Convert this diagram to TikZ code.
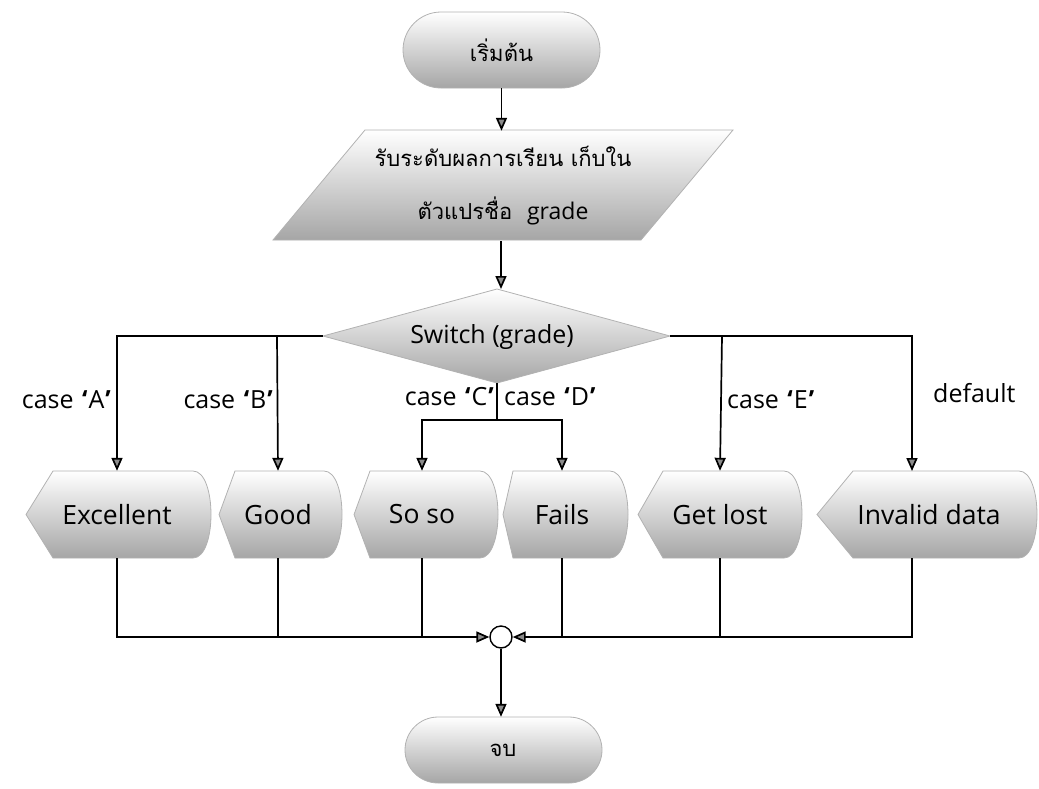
\documentclass[tikz,border=0pt]{standalone}
\usepackage{fontspec}
\setmainfont{Open Sans}
\newfontfamily\thaifont[Script=Thai]{Loma}
\usetikzlibrary{arrows.meta,calc}
\newcommand\dispshape[3]{%
  \path[shp] (#1,514.5) -- (#2,471) -- ({#3-18},471)
    .. controls ({#3+6},471) and ({#3+6},558) .. ({#3-18},558)
    -- (#2,558) -- cycle;}
\newcommand\qq[1]{\kern2pt{\bfseries ‘}\kern1pt #1\kern1pt{\bfseries ’}}
\begin{document}
\begin{tikzpicture}[x=1pt,y=-1pt,
  shp/.style={draw=black!30, line width=0.8pt, top color=white, bottom color=black!35},
  conn/.style={line width=1.7pt, draw=black},
  arr/.style={conn, -{Triangle[length=13pt,width=11pt,fill=black!45]}},
  lbl/.style={font=\fontsize{25}{30}\selectfont, inner sep=0pt},
  txt/.style={font=\fontsize{26.5}{30}\selectfont, inner sep=0pt, minimum height=87pt},
  term/.style={font=\thaifont\fontsize{22}{26}\selectfont, inner sep=0pt},
]
\useasboundingbox (0,0) rectangle (1039,788);

% start
\path[shp, rounded corners=38pt] (403,12) rectangle (600,88);
\node[term, minimum height=76pt] (start) at (501.5,50) {เริ่มต้น};

% input
\path[shp] (273,240) -- (365,130) -- (733,130) -- (641,240) -- cycle;
\node[inner sep=0pt, minimum height=110pt, align=center,
      font=\thaifont\fontsize{22}{53}\selectfont] (inp) at (503,186)
  {รับระดับผลการเรียน เก็บใน\\ตัวแปรชื่อ\ \ {\fontspec{Open Sans}\fontsize{23}{53}\selectfont grade}};

% switch
\path[shp] (323,336) -- (497,289) -- (670,336) -- (497,383) -- cycle;
\node[lbl] (sw) at (492,337) {Switch (grade)};
\coordinate (swL) at (323,336);
\coordinate (swR) at (670,336);
\coordinate (swB) at (497,383);
\coordinate (swD) at (497,420);
\coordinate (bB) at (277,336);
\coordinate (bE) at (722,336);

% display shapes
\dispshape{26}{53}{211}
\dispshape{219}{235}{342}
\dispshape{354}{370}{498}
\dispshape{503}{513}{628}
\dispshape{638}{663}{802}
\dispshape{817}{853}{1037}
\node[txt] (ex) at (117,514.5) {Excellent};
\node[txt] (gd) at (278,514.5) {Good};
\node[txt] (ss) at (422,514.5) {So so};
\node[txt] (fl) at (562,514.5) {Fails};
\node[txt] (gl) at (720,514.5) {Get lost};
\node[txt] (inv) at (929,514.5) {Invalid data};
\coordinate (invin) at (912,471);
\coordinate (invout) at (912,558);

% junction and end
\node[circle, draw, line width=1.4pt, fill=white, minimum size=22pt, inner sep=0pt] (jn) at (501,637) {};
\path[shp, rounded corners=33pt] (405,717) rectangle (602,783);
\node[term, minimum height=66pt] (stop) at (503,750) {จบ};

% connectors
\draw[arr] (start.south) -- (start.south |- inp.north);
\draw[arr] (inp.south -| 501,0) -- (501,289);
\draw[arr] (swL) -| (ex.north);
\draw[arr] (bB) -- (gd.north);
\draw[arr] (swR) -| (invin);
\draw[arr] (bE) -- (gl.north);
\draw[conn] (swB) -- (swD);
\draw[arr] (swD) -| (ss.north);
\draw[arr] (swD) -| (fl.north);

\draw[arr] (ex.south) |- (jn.west);
\draw[conn] (gd.south) -- (gd.south |- jn);
\draw[conn] (ss.south) -- (ss.south |- jn);
\draw[arr] (invout) |- (jn.east);
\draw[conn] (gl.south) -- (gl.south |- jn);
\draw[conn] (fl.south) -- (fl.south |- jn);
\draw[arr] (jn.south) -- (jn.south |- stop.north);

% labels
\node[lbl, anchor=east] (lA) at (111,400) {case \qq{A}};
\node[lbl, anchor=east] (lB) at (273,400) {case \qq{B}};
\node[lbl, anchor=east] (lC) at (494,397) {case \qq{C}};
\node[lbl, anchor=west] (lD) at (504,397) {case \qq{D}};
\node[lbl, anchor=west] (lE) at (727,400) {case \qq{E}};
\node[lbl, anchor=west] (lF) at (933,393) {default};
\end{tikzpicture}
\end{document}
